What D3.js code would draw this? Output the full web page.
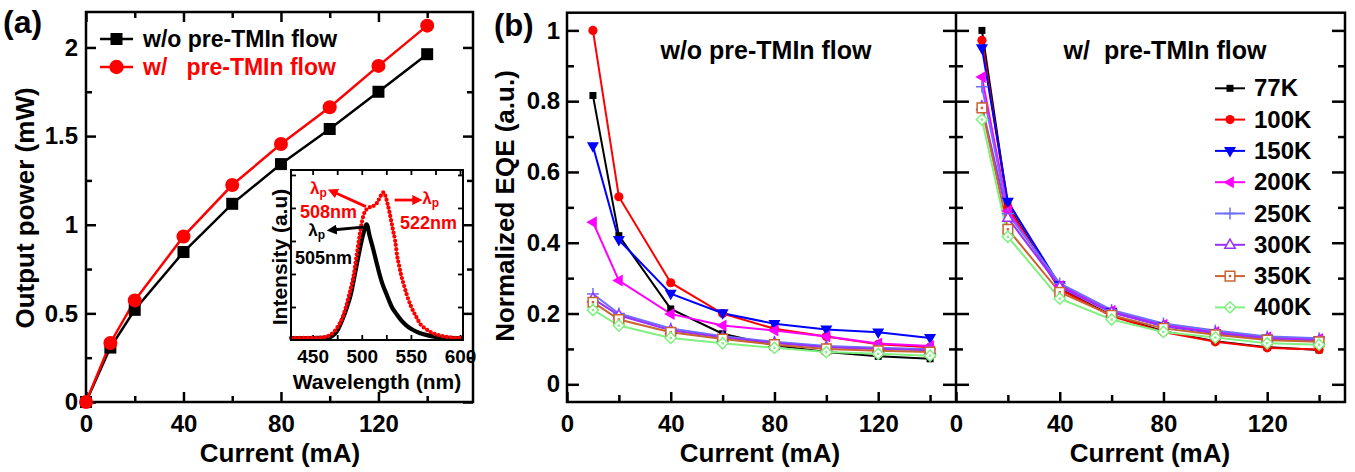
<!DOCTYPE html>
<html><head><meta charset="utf-8">
<script src="https://cdn.jsdelivr.net/npm/d3@7/dist/d3.min.js"></script>
<style>
html,body{margin:0;padding:0;background:#fff;}
svg{display:block;}
text{font-family:"Liberation Sans",Arial,Helvetica,sans-serif;font-weight:bold;}
</style></head>
<body><svg id="chart" width="1355" height="472"></svg>
<script>
// ================= DATA =================
// Panel (a): output power vs current
const currentA = [0, 10, 20, 40, 60, 80, 100, 120, 140];
const powerWithout = [0, 0.307, 0.52, 0.846, 1.118, 1.342, 1.54, 1.75, 1.962];
const powerWith    = [0, 0.333, 0.573, 0.934, 1.224, 1.455, 1.663, 1.896, 2.123];
const legendA = ["w/o pre-TMIn flow", "w/   pre-TMIn flow"];
const xTicksA = [0, 40, 80, 120];
const xTicksAminor = [20, 60, 100, 140];
const yTicksA = [0, 0.5, 1, 1.5, 2];
const yTicksAminor = [0.25, 0.75, 1.25, 1.75];

// Inset: EL spectra
const specWlWithout  = [428,445,460,466,470,475,480,485,489,493,497,501,505,508,511,515,518,521,525,528,531,535,540,545,550,555,562,572,582,592,603];
const specIntWithout = [0.012,0.012,0.013,0.016,0.025,0.055,0.12,0.20,0.28,0.40,0.52,0.63,0.70,0.63,0.565,0.47,0.40,0.34,0.28,0.235,0.195,0.16,0.12,0.09,0.068,0.052,0.036,0.022,0.014,0.011,0.01];
const specWlWith  = [428,445,455,460,465,470,475,480,484,487,490,492,494,496,498,500,502,504,507,510,513,516,519,522,524,526,528,530,532,534,536,538,540,543,546,550,555,560,565,570,577,585,593,603];
const specIntWith = [0.012,0.012,0.013,0.015,0.022,0.04,0.075,0.13,0.2,0.27,0.34,0.40,0.48,0.56,0.64,0.71,0.76,0.785,0.80,0.81,0.815,0.835,0.87,0.895,0.875,0.83,0.78,0.72,0.66,0.6,0.51,0.45,0.395,0.33,0.27,0.205,0.145,0.093,0.068,0.048,0.032,0.02,0.014,0.012];
const insetXTicks = [450, 500, 550, 600];
const insetXTicksMinor = [475, 525, 575];
const insetYTicks = [0.2, 0.4, 0.6, 0.8, 1.0];
const peakLabels = ["508nm", "522nm", "505nm"];

// Panel (b): normalized EQE vs current
const currentB = [10, 20, 40, 60, 80, 100, 120, 140];
const temps = ["77K", "100K", "150K", "200K", "250K", "300K", "350K", "400K"];
const eqeWo77  = [0.816, 0.42, 0.213, 0.143, 0.11, 0.091, 0.079, 0.072];
const eqeWo100 = [1.0, 0.53, 0.287, 0.20, 0.157, 0.135, 0.113, 0.105];
const eqeWo150 = [0.673, 0.408, 0.256, 0.201, 0.171, 0.155, 0.147, 0.131];
const eqeWo200 = [0.458, 0.293, 0.199, 0.166, 0.152, 0.135, 0.115, 0.108];
const eqeWo250 = [0.255, 0.2, 0.158, 0.136, 0.12, 0.108, 0.103, 0.099];
const eqeWo300 = [0.242, 0.195, 0.153, 0.132, 0.117, 0.105, 0.1, 0.096];
const eqeWo350 = [0.232, 0.183, 0.147, 0.128, 0.112, 0.10, 0.095, 0.091];
const eqeWo400 = [0.21, 0.166, 0.131, 0.116, 0.103, 0.091, 0.086, 0.081];
const eqeW77  = [1.0, 0.505, 0.27, 0.195, 0.15, 0.122, 0.105, 0.097];
const eqeW100 = [0.972, 0.50, 0.268, 0.193, 0.148, 0.12, 0.103, 0.098];
const eqeW150 = [0.95, 0.516, 0.28, 0.205, 0.165, 0.145, 0.13, 0.125];
const eqeW200 = [0.868, 0.49, 0.278, 0.208, 0.168, 0.148, 0.133, 0.128];
const eqeW250 = [0.841, 0.482, 0.285, 0.21, 0.172, 0.152, 0.135, 0.13];
const eqeW300 = [0.785, 0.47, 0.275, 0.203, 0.165, 0.145, 0.13, 0.124];
const eqeW350 = [0.781, 0.438, 0.26, 0.195, 0.158, 0.14, 0.125, 0.12];
const eqeW400 = [0.748, 0.417, 0.242, 0.183, 0.148, 0.132, 0.116, 0.112];
const yTicksB = [0, 0.2, 0.4, 0.6, 0.8, 1];
const yTicksBminor = [0.1, 0.3, 0.5, 0.7, 0.9];
const xTicksB = [0, 40, 80, 120];
const xTicksBminor = [20, 60, 100, 140];
const titlesB = ["w/o pre-TMIn flow", "w/  pre-TMIn flow"];

// ================= DRAW =================
const FONT = '"Liberation Sans", Arial, Helvetica, sans-serif';
const svg = d3.select("#chart");
svg.append("rect").attr("width",1355).attr("height",472).attr("fill","#fff");

function axisG(parent, gen, tx, ty, fs, sw) {
  const g = parent.append("g").attr("transform", `translate(${tx},${ty})`).call(gen);
  g.select(".domain").remove();
  g.selectAll(".tick line").attr("stroke", "#000").attr("stroke-width", sw || 2.5);
  g.selectAll(".tick text").attr("font-size", fs).attr("font-weight", "bold")
    .attr("fill", "#000").attr("font-family", FONT);
  return g;
}
const fmt = d => String(d);

function symPath(type, h) {
  switch (type) {
    case "square": return `M${-h},${-h}H${h}V${h}H${-h}Z`;
    case "circle": return `M${h},0A${h},${h} 0 1,1 ${-h},0A${h},${h} 0 1,1 ${h},0Z`;
    case "triDown": return `M${-h},${-h*0.65}L${h},${-h*0.65}L0,${h*1.1}Z`;
    case "triLeft": return `M${h*0.65},${-h}L${h*0.65},${h}L${-h*1.1},0Z`;
    case "triUp": return `M0,${-h*1.1}L${h},${h*0.65}L${-h},${h*0.65}Z`;
    case "plus": return `M${-h},0H${h}M0,${-h}V${h}`;
    case "diamond": return `M0,${-h}L${h},0L0,${h}L${-h},0Z`;
  }
}

// ---------- Panel (a) ----------
const gA = svg.append("g");
const xA = d3.scaleLinear([0, 158.8], [86, 473]);
const yA = d3.scaleLinear([0, 2.2], [402, 12]);

axisG(gA, d3.axisBottom(xA).tickValues(xTicksA).tickSize(-10).tickSizeOuter(0).tickPadding(13).tickFormat(fmt), 0, 402, 24);
axisG(gA, d3.axisBottom(xA).tickValues(xTicksAminor).tickSize(-6).tickSizeOuter(0).tickFormat(""), 0, 402, 24);
axisG(gA, d3.axisTop(xA).tickValues(xTicksA).tickSize(-10).tickSizeOuter(0).tickFormat(""), 0, 12, 24);
axisG(gA, d3.axisTop(xA).tickValues(xTicksAminor).tickSize(-6).tickSizeOuter(0).tickFormat(""), 0, 12, 24);
axisG(gA, d3.axisLeft(yA).tickValues(yTicksA).tickSize(-10).tickSizeOuter(0).tickPadding(8).tickFormat(fmt), 86, 0, 24);
axisG(gA, d3.axisLeft(yA).tickValues(yTicksAminor).tickSize(-6).tickSizeOuter(0).tickFormat(""), 86, 0, 24);
axisG(gA, d3.axisRight(yA).tickValues(yTicksA).tickSize(-10).tickSizeOuter(0).tickFormat(""), 473, 0, 24);
axisG(gA, d3.axisRight(yA).tickValues(yTicksAminor).tickSize(-6).tickSizeOuter(0).tickFormat(""), 473, 0, 24);
gA.append("rect").attr("x", 86).attr("y", 12).attr("width", 387).attr("height", 390)
  .attr("fill", "none").attr("stroke", "#000").attr("stroke-width", 2.5);

const lineA = d3.line().x((d, i) => xA(currentA[i])).y(d => yA(d));
gA.append("path").attr("d", lineA(powerWithout)).attr("fill", "none").attr("stroke", "#000").attr("stroke-width", 2.5);
gA.append("path").attr("d", lineA(powerWith)).attr("fill", "none").attr("stroke", "#f00").attr("stroke-width", 2.5);
gA.selectAll(".sqA").data(powerWithout).join("path")
  .attr("transform", (d, i) => `translate(${xA(currentA[i])},${yA(d)})`)
  .attr("d", symPath("square", 6)).attr("fill", "#000");
gA.selectAll(".ciA").data(powerWith).join("path")
  .attr("transform", (d, i) => `translate(${xA(currentA[i])},${yA(d)})`)
  .attr("d", symPath("circle", 7)).attr("fill", "#f00");

// legend (a)
const legColsA = ["#000", "#f00"], legSymA = ["square", "circle"], legSzA = [6, 7.2];
legendA.forEach((t, i) => {
  const yy = 39 + i * 28;
  gA.append("line").attr("x1", 100).attr("x2", 133).attr("y1", yy).attr("y2", yy)
    .attr("stroke", legColsA[i]).attr("stroke-width", 2.5);
  gA.append("path").attr("transform", `translate(116.5,${yy})`).attr("d", symPath(legSymA[i], legSzA[i])).attr("fill", legColsA[i]);
  gA.append("text").attr("x", 143).attr("y", yy + 8).attr("font-size", 23).attr("fill", legColsA[i])
    .attr("xml:space", "preserve").style("white-space", "pre").text(t);
});

gA.append("text").attr("x", 3).attr("y", 33).attr("font-size", 32).text("(a)");
gA.append("text").attr("text-anchor", "middle").attr("x", 280).attr("y", 462).attr("font-size", 26).text("Current (mA)");
gA.append("text").attr("text-anchor", "middle").attr("transform", "translate(34,208) rotate(-90)")
  .attr("font-size", 26).text("Output power (mW)");

// ---------- Inset ----------
const gI = svg.append("g");
const xI = d3.scaleLinear([428, 603], [291, 463]);
const yI = d3.scaleLinear([0, 1.03], [340, 170]);
gI.append("rect").attr("x", 291).attr("y", 170).attr("width", 172).attr("height", 170).attr("fill", "#fff");
axisG(gI, d3.axisBottom(xI).tickValues(insetXTicks).tickSize(-5).tickSizeOuter(0).tickPadding(10).tickFormat(fmt), 0, 340, 19, 1.8);
axisG(gI, d3.axisBottom(xI).tickValues(insetXTicksMinor).tickSize(-5).tickSizeOuter(0).tickFormat(""), 0, 340, 19, 1.8);
axisG(gI, d3.axisTop(xI).tickValues(insetXTicks.concat(insetXTicksMinor)).tickSize(-5).tickSizeOuter(0).tickFormat(""), 0, 170, 19, 1.8);
axisG(gI, d3.axisLeft(yI).tickValues(insetYTicks).tickSize(-5).tickSizeOuter(0).tickFormat(""), 291, 0, 19, 1.8);
axisG(gI, d3.axisRight(yI).tickValues(insetYTicks).tickSize(-5).tickSizeOuter(0).tickFormat(""), 463, 0, 19, 1.8);

const lineI = (wl) => d3.line().curve(d3.curveMonotoneX).x((d, i) => xI(wl[i])).y(d => yI(d));
gI.append("path").attr("d", lineI(specWlWithout)(specIntWithout)).attr("fill", "none")
  .attr("stroke", "#000").attr("stroke-width", 4.2).attr("stroke-linejoin", "round");
gI.append("path").attr("d", lineI(specWlWith)(specIntWith)).attr("fill", "none")
  .attr("stroke", "#f00").attr("stroke-width", 4.3).attr("stroke-linecap", "round")
  .attr("stroke-dasharray", "0 4.2");
gI.append("rect").attr("x", 291).attr("y", 170).attr("width", 172).attr("height", 170)
  .attr("fill", "none").attr("stroke", "#000").attr("stroke-width", 2);

// arrows
const defs = svg.append("defs");
[["arrR", "#f00"], ["arrK", "#000"]].forEach(([id, c]) => {
  defs.append("marker").attr("id", id).attr("viewBox", "0 0 10 10").attr("refX", 2).attr("refY", 5)
    .attr("markerWidth", 3.6).attr("markerHeight", 3.6).attr("orient", "auto-start-reverse")
    .attr("markerUnits", "strokeWidth")
    .append("path").attr("d", "M0,0L10,5L0,10Z").attr("fill", c);
});
const arrowsI = [
  { from: [504.3, 0.808], to: [473, 0.892], c: "#f00", m: "arrR" },
  { from: [533.5, 0.848], to: [553.5, 0.848], c: "#f00", m: "arrR" },
  { from: [501.3, 0.684], to: [472.5, 0.668], c: "#000", m: "arrK" }
];
arrowsI.forEach(a => {
  gI.append("line").attr("x1", xI(a.from[0])).attr("y1", yI(a.from[1]))
    .attr("x2", xI(a.to[0])).attr("y2", yI(a.to[1]))
    .attr("stroke", a.c).attr("stroke-width", 2.8).attr("marker-end", `url(#${a.m})`);
});
function lamP(x, y, c) {
  const t = gI.append("text").attr("x", x).attr("y", y).attr("fill", c).attr("font-size", 17);
  t.append("tspan").text("λ");
  t.append("tspan").attr("dy", 3).attr("font-size", 12).text("p");
}
lamP(xI(447.3), yI(0.885), "#f00");
gI.append("text").attr("x", xI(437.2)).attr("y", yI(0.737)).attr("font-size", 18).attr("fill", "#f00").text(peakLabels[0]);
lamP(xI(561.6), yI(0.822), "#f00");
gI.append("text").attr("x", xI(538.9)).attr("y", yI(0.672)).attr("font-size", 18).attr("fill", "#f00").text(peakLabels[1]);
lamP(xI(445.6), yI(0.63), "#000");
gI.append("text").attr("x", xI(432.1)).attr("y", yI(0.462)).attr("font-size", 18).attr("fill", "#000").text(peakLabels[2]);

gI.append("text").attr("text-anchor", "middle").attr("x", 377).attr("y", 389).attr("font-size", 21).text("Wavelength (nm)");
gI.append("text").attr("text-anchor", "middle").attr("transform", "translate(287,257) rotate(-90)")
  .attr("font-size", 21).text("Intensity (a.u)");

// ---------- Panel (b) ----------
const gB = svg.append("g");
const yB = d3.scaleLinear([-0.05, 1.05], [402, 12.7]);
const xBL = d3.scaleLinear([0, 150], [567, 956]);
const xBR = d3.scaleLinear([0, 150], [956, 1345]);
const colorsB = ["#000000", "#ff0000", "#0000ff", "#ff00ff", "#6e6eff", "#9a30ff", "#c8642d", "#80f080"];
const shapesB = ["square", "circle", "triDown", "triLeft", "plus", "triUp", "square", "diamond"];
const sizesB = [3.5, 4.6, 6, 6, 6, 5.2, 4.8, 5.6];
const filledB = [true, true, true, true, false, false, false, false];
const dotB = [false, false, false, false, false, false, true, true];
const seriesWo = [eqeWo77, eqeWo100, eqeWo150, eqeWo200, eqeWo250, eqeWo300, eqeWo350, eqeWo400];
const seriesW = [eqeW77, eqeW100, eqeW150, eqeW200, eqeW250, eqeW300, eqeW350, eqeW400];

function marker(g, x, y, k) {
  const p = g.append("path").attr("transform", `translate(${x},${y})`).attr("d", symPath(shapesB[k], sizesB[k]));
  if (filledB[k]) p.attr("fill", colorsB[k]);
  else p.attr("fill", shapesB[k] === "plus" ? "none" : "#fff").attr("stroke", colorsB[k]).attr("stroke-width", 1.5);
  if (dotB[k]) g.append("path").attr("transform", `translate(${x},${y})`).attr("d", symPath("square", 1.2)).attr("fill", colorsB[k]);
}

function drawPanel(xs, series) {
  series.forEach((s, k) => {
    const ln = d3.line().x((d, i) => xs(currentB[i])).y(d => yB(d));
    gB.append("path").attr("d", ln(s)).attr("fill", "none").attr("stroke", colorsB[k]).attr("stroke-width", 2);
  });
  series.forEach((s, k) => {
    s.forEach((v, i) => marker(gB, xs(currentB[i]), yB(v), k));
  });
}

// axes
[xBL, xBR].forEach(xs => {
  axisG(gB, d3.axisBottom(xs).tickValues(xTicksB).tickSize(-10).tickSizeOuter(0).tickPadding(13).tickFormat(fmt), 0, 402, 24);
  axisG(gB, d3.axisBottom(xs).tickValues(xTicksBminor).tickSize(-7).tickSizeOuter(0).tickFormat(""), 0, 402, 24);
});
axisG(gB, d3.axisLeft(yB).tickValues(yTicksB).tickSize(-12).tickSizeOuter(0).tickPadding(7).tickFormat(fmt), 567, 0, 24);
axisG(gB, d3.axisLeft(yB).tickValues(yTicksBminor).tickSize(-7).tickSizeOuter(0).tickFormat(""), 567, 0, 24);
axisG(gB, d3.axisRight(yB).tickValues(yTicksB).tickSize(-13).tickSizeOuter(0).tickFormat(""), 956, 0, 24);
axisG(gB, d3.axisRight(yB).tickValues(yTicksBminor).tickSize(-7).tickSizeOuter(0).tickFormat(""), 956, 0, 24);
axisG(gB, d3.axisLeft(yB).tickValues(yTicksB).tickSize(-13).tickSizeOuter(0).tickFormat(""), 956, 0, 24);
axisG(gB, d3.axisLeft(yB).tickValues(yTicksBminor).tickSize(-7).tickSizeOuter(0).tickFormat(""), 956, 0, 24);
axisG(gB, d3.axisRight(yB).tickValues(yTicksB).tickSize(-13).tickSizeOuter(0).tickFormat(""), 1345, 0, 24);
axisG(gB, d3.axisRight(yB).tickValues(yTicksBminor).tickSize(-7).tickSizeOuter(0).tickFormat(""), 1345, 0, 24);

drawPanel(xBL, seriesWo);
drawPanel(xBR, seriesW);

gB.append("rect").attr("x", 567).attr("y", 12.7).attr("width", 778).attr("height", 389.3)
  .attr("fill", "none").attr("stroke", "#000").attr("stroke-width", 2.5);
gB.append("line").attr("x1", 956).attr("x2", 956).attr("y1", 12.7).attr("y2", 402)
  .attr("stroke", "#000").attr("stroke-width", 2.5);

// legend (b)
temps.forEach((t, k) => {
  const yy = 88.3 + k * 31.3;
  gB.append("line").attr("x1", 1215).attr("x2", 1245).attr("y1", yy).attr("y2", yy)
    .attr("stroke", colorsB[k]).attr("stroke-width", 2);
  marker(gB, 1230, yy, k);
  gB.append("text").attr("x", 1254).attr("y", yy + 8).attr("font-size", 24).text(t);
});

gB.append("text").attr("x", 494).attr("y", 36).attr("font-size", 31).text("(b)");
gB.append("text").attr("text-anchor", "middle").attr("x", 766).attr("y", 58.5).attr("font-size", 25)
  .text(titlesB[0]);
gB.append("text").attr("text-anchor", "middle").attr("x", 1165).attr("y", 58.5).attr("font-size", 25)
  .attr("xml:space", "preserve").style("white-space", "pre").text(titlesB[1]);
gB.append("text").attr("text-anchor", "middle").attr("x", 760).attr("y", 462).attr("font-size", 26).text("Current (mA)");
gB.append("text").attr("text-anchor", "middle").attr("x", 1150).attr("y", 462).attr("font-size", 26).text("Current (mA)");
gB.append("text").attr("text-anchor", "middle").attr("transform", "translate(514,206) rotate(-90)")
  .attr("font-size", 26).text("Normalized EQE (a.u.)");
</script>
</body></html>
